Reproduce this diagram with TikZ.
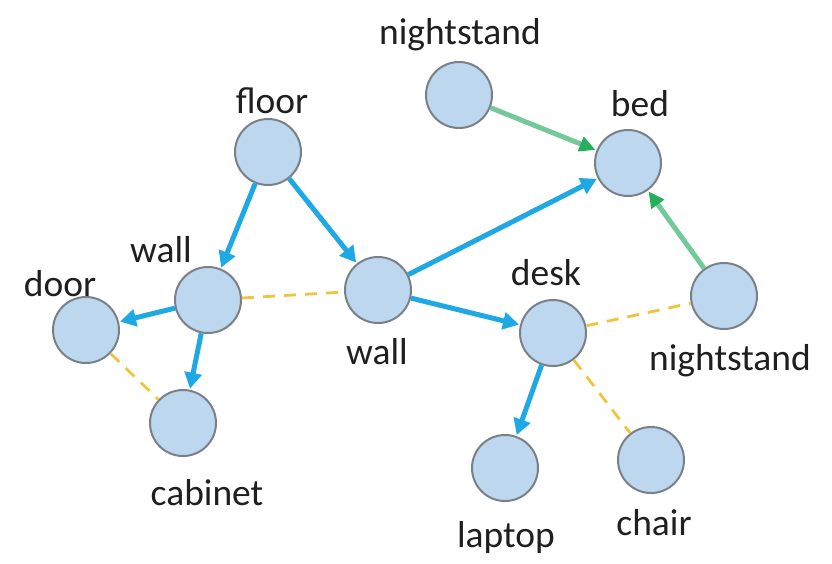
\documentclass[tikz,border=0pt]{standalone}
\usepackage{fontspec}
\setmainfont{Carlito}
\usetikzlibrary{arrows.meta}
\definecolor{nodefill}{HTML}{BDD7EE}
\definecolor{nodeline}{HTML}{7A8088}
\definecolor{edgeblue}{HTML}{1EA8E4}
\definecolor{edgegold}{HTML}{F0C43C}
\definecolor{edgegreen}{HTML}{74C99A}
\definecolor{tipgreen}{HTML}{26AE5C}
\tikzset{
  obj/.style={circle, minimum size=66pt, inner sep=0pt, fill=nodefill, draw=nodeline, line width=2pt},
  lbl/.style={font=\fontsize{37.5}{40}\selectfont, text=black!88, inner sep=0pt},
  rel/.style={draw=edgeblue, line width=5pt, -{Triangle[length=16pt, width=17pt]}, shorten >=1pt},
  near/.style={draw=edgegold, line width=2.8pt, dash pattern=on 12pt off 9pt},
  sup/.style={draw=edgegreen, line width=5pt, -{Triangle[length=16pt, width=15pt, color=tipgreen]}, shorten >=1pt}
}
\begin{document}
\begin{tikzpicture}[x=1pt, y=-1pt]
\useasboundingbox (0,0) rectangle (832,563);
% objects
\node[obj] (ns1)    at (459,95)  {};
\node[obj] (bed)    at (628,163) {};
\node[obj] (floor)  at (268,152) {};
\node[obj] (wallA)  at (208,300) {};
\node[obj] (door)   at (86,330)  {};
\node[obj] (cab)    at (183,423) {};
\node[obj] (wallB)  at (378,290) {};
\node[obj] (desk)   at (553,333) {};
\node[obj] (ns2)    at (724,296) {};
\node[obj] (laptop) at (505,468) {};
\node[obj] (chair)  at (651,460) {};
% labels
\node[lbl] (tns1)    at (460,35)  {nightstand};
\node[lbl] (tbed)    at (640,104) {bed};
\node[lbl] (tfloor)  at (272,101) {floor};
\node[lbl] (twallA)  at (161,250) {wall};
\node[lbl] (tdoor)   at (60,284)  {door};
\node[lbl] (twallB)  at (377,352) {wall};
\node[lbl] (tdesk)   at (546,273) {desk};
\node[lbl] (tns2)    at (730,361) {nightstand};
\node[lbl] (tcab)    at (207,493) {cabinet};
\node[lbl] (tlaptop) at (506,537) {laptop};
\node[lbl] (tchair)  at (654,523) {chair};
% proximity (dashed)
\draw[near] (wallA) -- (wallB);
\draw[near] (door) -- (cab);
\draw[near] (desk) -- (ns2);
\draw[near] (desk) -- (chair);
% structural relations
\draw[rel] (floor) -- (wallA);
\draw[rel] (floor) -- (wallB);
\draw[rel] (wallA) -- (door);
\draw[rel] (wallA) -- (cab);
\draw[rel] (wallB) -- (bed);
\draw[rel] (wallB) -- (desk);
\draw[rel] (desk) -- (laptop);
% support relations
\draw[sup] (ns1) -- (bed);
\draw[sup] (ns2) -- (bed);
\end{tikzpicture}
\end{document}
